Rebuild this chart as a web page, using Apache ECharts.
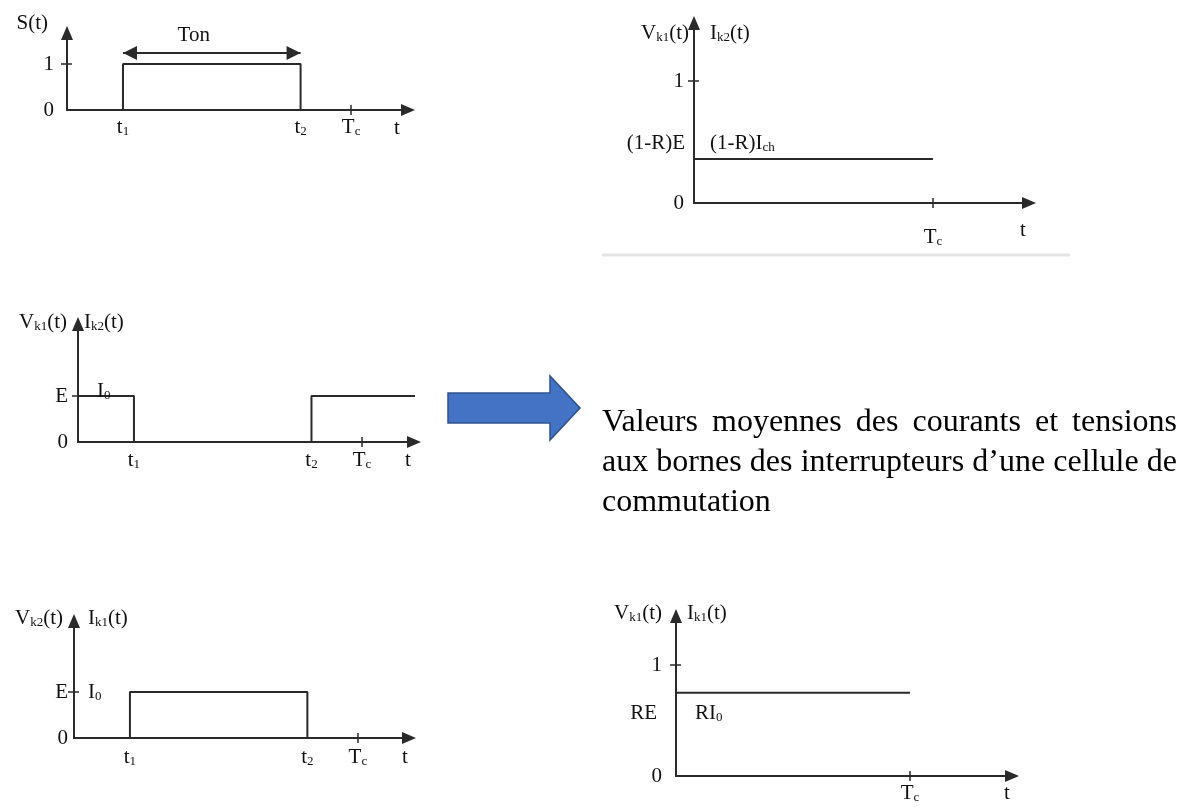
<!DOCTYPE html>
<html>
<head>
<meta charset="utf-8">
<script src="https://cdn.jsdelivr.net/npm/echarts@6/dist/echarts.min.js"></script>
<style>
html, body { margin: 0; padding: 0; background: #ffffff; }
#chart { width: 1184px; height: 807px; }
</style>
</head>
<body>
<div id="chart"></div>
<script>
// Switching instants, as fractions of the switching period Tc
const timeLabels = ['t_{1}', 't_{2}', 'T_{c}'];
const timeValues = [0.197, 0.822, 1];

// Control signal S(t)
const sSignal = [[0, 0], [0.197, 0], [0.197, 1], [0.822, 1], [0.822, 0], [1, 0]];
// Vk1(t) / Ik2(t): high outside the conduction interval [t1, t2]
const vk1Ik2 = [[0, 1], [0.197, 1], [0.197, 0], [0.822, 0], [0.822, 1], [1.2, 1]];
// Vk2(t) / Ik1(t): high during the conduction interval [t1, t2]
const vk2Ik1 = [[0.197, 0], [0.197, 1], [0.822, 1], [0.822, 0]];
// Mean values over one period
const meanVk1Ik2 = [[0, 0.36], [1, 0.36]];
const meanVk1Ik1 = [[0, 0.75], [1, 0.75]];

// Level tick labels
const levelValues = [0, 1];
const levelLabelsUnit = ['0', '1'];
const levelLabelsE = ['0', 'E'];

const paragraph = [
  'Valeurs moyennes des courants et tensions',
  'aux bornes des interrupteurs d\u2019une cellule de',
  'commutation'
];

const FONT = 'Liberation Serif';
const INK = '#111111';
const LINE = '#2a2a2a';
const FS = 21;

const rich = {
  b: { fontFamily: FONT, fontSize: FS, color: INK, verticalAlign: 'bottom', lineHeight: 22 },
  s: { fontFamily: FONT, fontSize: 13, color: INK, verticalAlign: 'bottom', lineHeight: 9 }
};
const labelBase = { fontFamily: FONT, fontSize: FS, color: INK, opacity: 1 };

// 'V_{k1}(t)' -> rich text with a subscript
function rt(str) {
  const re = /_\{([^}]*)\}/g;
  let out = '', last = 0, m;
  while ((m = re.exec(str))) {
    if (m.index > last) out += '{b|' + str.slice(last, m.index) + '}';
    out += '{s|' + m[1] + '}';
    last = re.lastIndex;
  }
  if (last < str.length) out += '{b|' + str.slice(last) + '}';
  return out;
}

function lookup(values, labels, v) {
  for (let k = 0; k < values.length; k++) {
    if (Math.abs(values[k] - v) < 1e-9) return labels[k];
  }
  return '';
}

const grids = [], xAxes = [], yAxes = [], series = [];

function makePanel(c) {
  const i = grids.length;
  const [l, t, r, b] = c.box;
  grids.push({ left: l, top: t, width: r - l, height: b - t, containLabel: false, outerBoundsMode: 'none' });
  const axisLine = { color: LINE, width: 2 };
  const tickLine = { color: LINE, width: 1.5 };
  const xLabelValues = c.allTimes ? timeValues : [timeValues[2]];

  // time axis (labels, downward half of the Tc tick)
  xAxes.push({
    gridIndex: i, type: 'value', min: 0, max: c.xMax, position: 'bottom',
    axisLine: { show: true, onZero: true, symbol: ['none', 'triangle'], symbolSize: [12, 14], lineStyle: axisLine },
    axisTick: { show: true, customValues: [timeValues[2]], length: 5, lineStyle: tickLine },
    axisLabel: Object.assign({
      show: true, customValues: xLabelValues, margin: c.xMargin,
      formatter: v => rt(lookup(timeValues, timeLabels, v)), rich
    }, labelBase),
    splitLine: { show: false },
    name: 't', nameLocation: 'end', nameGap: c.tGap, nameMoveOverlap: false,
    nameTextStyle: Object.assign({ align: 'center', verticalAlign: 'top', padding: [c.tPad, 0, 0, 0] }, labelBase)
  });
  // upward half of the Tc tick
  xAxes.push({
    gridIndex: i, type: 'value', min: 0, max: c.xMax, position: 'top',
    axisLine: { show: false, onZero: true },
    axisTick: { show: true, customValues: [timeValues[2]], length: 5, lineStyle: tickLine },
    axisLabel: { show: false }, splitLine: { show: false }
  });

  // voltage / signal axis
  yAxes.push({
    gridIndex: i, type: 'value', min: 0, max: c.yMax, position: 'left',
    axisLine: { show: true, onZero: true, symbol: ['none', 'triangle'], symbolSize: [12, 14], lineStyle: axisLine },
    axisTick: { show: true, customValues: [1], length: 6, lineStyle: tickLine },
    axisLabel: Object.assign({
      show: true, customValues: levelValues, margin: c.yMargin,
      formatter: v => rt(lookup(levelValues, c.levelLabels, v)), rich
    }, labelBase),
    splitLine: { show: false },
    name: rt(c.vName), nameLocation: 'end', nameGap: c.nameGap, nameMoveOverlap: false,
    nameTextStyle: Object.assign({ align: 'right', verticalAlign: 'middle', padding: [0, c.vPad, 0, 0], rich }, labelBase)
  });
  // current axis, sharing the same vertical line
  yAxes.push({
    gridIndex: i, type: 'value', min: 0, max: c.yMax, position: 'right',
    axisLine: { show: false, onZero: true },
    axisTick: { show: true, customValues: [1], length: 5, lineStyle: tickLine },
    axisLabel: { show: false }, splitLine: { show: false },
    name: c.iName ? rt(c.iName) : '', nameLocation: 'end', nameGap: c.nameGap, nameMoveOverlap: false,
    nameTextStyle: Object.assign({ align: 'left', verticalAlign: 'middle', padding: [0, 0, 0, c.iPad || 0], rich }, labelBase)
  });

  const wave = {
    type: 'line', xAxisIndex: 2 * i, yAxisIndex: 2 * i, data: c.data,
    symbol: 'none', clip: false, silent: true, z: 3,
    itemStyle: { color: LINE },
    lineStyle: { color: LINE, width: 2 }
  };
  if (c.markLine) wave.markLine = c.markLine;
  series.push(wave);

  if (c.notes && c.notes.length) {
    series.push({
      type: 'scatter', xAxisIndex: 2 * i, yAxisIndex: 2 * i, symbolSize: 0, clip: false, silent: true, z: 4,
      itemStyle: { color: INK, opacity: 1 },
      data: c.notes.map(n => ({
        value: n.at,
        label: Object.assign({
          show: true, position: n.side, distance: n.dist, offset: [0, n.dy],
          formatter: rt(n.text), rich
        }, labelBase)
      }))
    });
  }
}

// S(t) with the conduction time Ton
makePanel({
  box: [67, 33, 408, 110], xMax: 1.2, yMax: 1.674, allTimes: true,
  xMargin: 6, tGap: -11, tPad: 8, yMargin: 13, levelLabels: levelLabelsUnit,
  vName: 'S(t)', nameGap: 10, vPad: 19,
  data: sSignal,
  markLine: {
    silent: true, animation: false,
    symbol: ['triangle', 'triangle'], symbolSize: 14, symbolOffset: [[0, 7], [0, 7]],
    itemStyle: { color: LINE },
    lineStyle: { color: LINE, width: 2, type: 'solid' },
    label: Object.assign({ show: true, position: 'middle', distance: 7, offset: [-18, 0], formatter: 'Ton' }, labelBase),
    data: [[{ coord: [timeValues[0], 1.24] }, { coord: [timeValues[1], 1.24] }]]
  }
});

// Mean values of Vk1 and Ik2
makePanel({
  box: [694, 23, 1029, 203], xMax: 1.402, yMax: 1.475, allTimes: false,
  xMargin: 23, tGap: -6, tPad: 17, yMargin: 10, levelLabels: levelLabelsUnit,
  vName: 'V_{k1}(t)', iName: 'I_{k2}(t)', nameGap: -10, vPad: 5, iPad: 16,
  data: meanVk1Ik2,
  notes: [
    { at: meanVk1Ik2[0], side: 'left', dist: 9, dy: -16, text: '(1-R)E' },
    { at: meanVk1Ik2[0], side: 'right', dist: 16, dy: -16, text: '(1-R)I_{ch}' }
  ]
});

// Vk1(t) and Ik2(t)
makePanel({
  box: [78, 324, 414, 442], xMax: 1.183, yMax: 2.565, allTimes: true,
  xMargin: 7, tGap: -6, tPad: 8, yMargin: 10, levelLabels: levelLabelsE,
  vName: 'V_{k1}(t)', iName: 'I_{k2}(t)', nameGap: 2, vPad: 11, iPad: 6,
  data: vk1Ik2,
  notes: [{ at: [0, 1], side: 'right', dist: 19, dy: -5, text: 'I_{0}' }]
});

// Vk2(t) and Ik1(t)
makePanel({
  box: [74, 621, 409, 738], xMax: 1.18, yMax: 2.543, allTimes: true,
  xMargin: 8, tGap: -4, tPad: 9, yMargin: 6, levelLabels: levelLabelsE,
  vName: 'V_{k2}(t)', iName: 'I_{k1}(t)', nameGap: 3, vPad: 11, iPad: 14,
  data: vk2Ik1,
  notes: [{ at: [0, 1], side: 'right', dist: 14, dy: 0, text: 'I_{0}' }]
});

// Mean values of Vk1 and Ik1
makePanel({
  box: [676, 616, 1012, 776], xMax: 1.436, yMax: 1.441, allTimes: false,
  xMargin: 6, tGap: -5, tPad: 7, yMargin: 14, levelLabels: levelLabelsUnit,
  vName: 'V_{k1}(t)', iName: 'I_{k1}(t)', nameGap: 3, vPad: 14, iPad: 11,
  data: meanVk1Ik1,
  notes: [
    { at: meanVk1Ik1[0], side: 'left', dist: 19, dy: 20, text: 'RE' },
    { at: meanVk1Ik1[0], side: 'right', dist: 19, dy: 20, text: 'RI_{0}' }
  ]
});

// Justified paragraph next to the block arrow
function paragraphElements(lines, x0, x1, firstMid, step) {
  const font = '32px "' + FONT + '"';
  const ctx = document.createElement('canvas').getContext('2d');
  ctx.font = font;
  const els = [];
  lines.forEach((line, li) => {
    const y = firstMid + li * step;
    const words = line.split(' ');
    const last = li === lines.length - 1;
    if (last || words.length < 2) {
      els.push({ type: 'text', x: x0, y, silent: true, style: { text: line, font, fill: '#000', align: 'left', verticalAlign: 'middle' } });
      return;
    }
    const widths = words.map(w => ctx.measureText(w).width);
    const total = widths.reduce((a, w) => a + w, 0);
    const gap = (x1 - x0 - total) / (words.length - 1);
    let x = x0;
    words.forEach((w, k) => {
      els.push({ type: 'text', x, y, silent: true, style: { text: w, font, fill: '#000', align: 'left', verticalAlign: 'middle' } });
      x += widths[k] + gap;
    });
  });
  return els;
}

const graphics = [
  { type: 'line', silent: true, shape: { x1: 602, y1: 255, x2: 1070, y2: 255 }, style: { stroke: '#e4e4e4', lineWidth: 3 } },
  {
    type: 'polygon', silent: true,
    shape: { points: [[448, 393], [550, 393], [550, 376], [580, 408], [550, 440], [550, 423], [448, 423]] },
    style: { fill: '#4472C4', stroke: '#2F528F', lineWidth: 1.5 }
  }
].concat(paragraphElements(paragraph, 602, 1177, 423, 40));

const chart = echarts.init(document.getElementById('chart'), null, { renderer: 'canvas' });
chart.setOption({
  animation: false,
  backgroundColor: '#ffffff',
  grid: grids,
  xAxis: xAxes,
  yAxis: yAxes,
  series: series,
  graphic: graphics
});
</script>
</body>
</html>
